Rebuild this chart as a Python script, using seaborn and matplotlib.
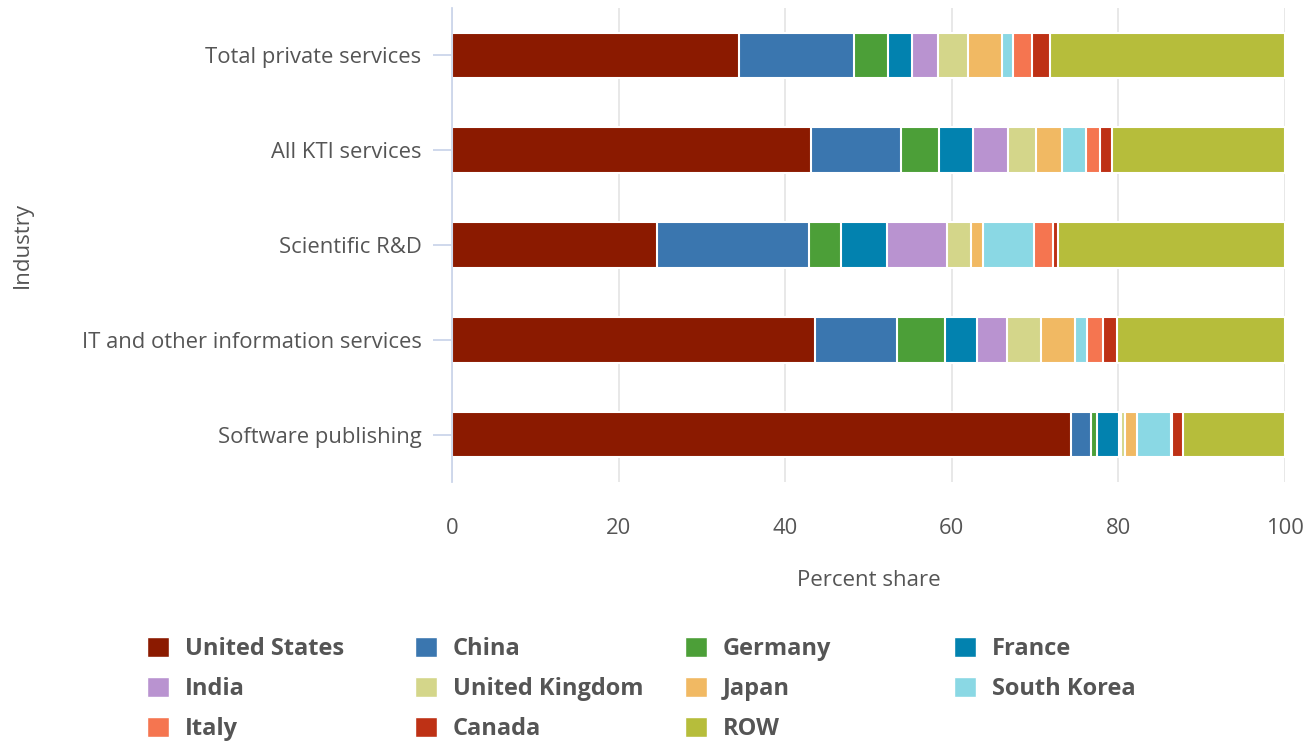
import pandas as pd
import seaborn as sns
import matplotlib.pyplot as plt
from matplotlib.patches import Patch

# industries, top to bottom
industries = ["Total private services", "All KTI services", "Scientific R&D",
              "IT and other information services", "Software publishing"]

countries = ["United States", "China", "Germany", "France", "India",
             "United Kingdom", "Japan", "South Korea", "Italy", "Canada", "ROW"]

# percent share per country, one value per industry
united_states = [34.5, 43.1, 24.6, 43.6, 74.3]
china = [13.7, 10.8, 18.3, 9.8, 2.4]
germany = [4.1, 4.6, 3.8, 5.8, 0.7]
france = [2.9, 4.1, 5.5, 3.8, 2.7]
india = [3.1, 4.1, 7.2, 3.6, 0.2]
united_kingdom = [3.6, 3.4, 2.9, 4.1, 0.5]
japan = [4.1, 3.1, 1.4, 4.1, 1.4]
south_korea = [1.4, 2.9, 6.2, 1.4, 4.1]
italy = [2.2, 1.7, 2.2, 1.9, 0.1]
canada = [2.2, 1.4, 0.7, 1.7, 1.4]
row = [28.2, 20.8, 27.2, 20.2, 12.2]

colors = ["#8b1a00", "#3a76af", "#4c9f38", "#0282af", "#b993d0",
          "#d4d68a", "#f1b963", "#8ad8e4", "#f57550", "#be3115", "#b6bd3b"]

df = pd.DataFrame({"Industry": industries,
                   "United States": united_states, "China": china,
                   "Germany": germany, "France": france, "India": india,
                   "United Kingdom": united_kingdom, "Japan": japan,
                   "South Korea": south_korea, "Italy": italy,
                   "Canada": canada, "ROW": row})

# cumulative sums for stacking
cum = df[countries].cumsum(axis=1)
cum["Industry"] = df["Industry"]

sns.set_theme(style="white")
plt.rcParams['font.family'] = ['Open Sans', 'DejaVu Sans']

text_col = "#555555"
fig = plt.figure(figsize=(13.16, 7.44), dpi=100)
ax = fig.add_axes([452 / 1316, 1 - 482 / 744, 833 / 1316, 474 / 744])

# draw largest cumulative first so each segment overlays the previous
for country, col in reversed(list(zip(countries, colors))):
    sns.barplot(data=cum, x=country, y="Industry", order=industries,
                color=col, width=0.48, orient="h", ax=ax,
                edgecolor="white", linewidth=1.5, saturation=1)

ax.set_xlim(0, 100)
ax.set_ylim(4.5, -0.5)
ax.set_xticks([0, 20, 40, 60, 80, 100])
ax.xaxis.grid(True, color="#e6e6e6", linewidth=1.3)
ax.set_axisbelow(True)
for s in ["top", "right", "bottom"]:
    ax.spines[s].set_visible(False)
ax.spines["left"].set_color("#ccd6eb")
ax.spines["left"].set_linewidth(1.3)

ax.tick_params(axis="y", length=14, width=1.3, color="#ccd6eb",
               labelsize=15.8, labelcolor=text_col, pad=8, left=True)
ax.tick_params(axis="x", length=0, labelsize=15.8, labelcolor=text_col, pad=26)

ax.set_xlabel("Percent share", fontsize=16, color=text_col, labelpad=22)
ax.set_ylabel("Industry", fontsize=16, color=text_col)
ax.yaxis.set_label_coords((33 - 452) / 833, 1 - (245 - 8) / 474)

# legend laid out row by row, four columns at fixed positions
col_x = [147, 415, 685, 954]
for c in range(4):
    idx = list(range(c, len(countries), 4))
    handles = [Patch(facecolor=colors[i], edgecolor="white") for i in idx]
    labels = [countries[i] for i in idx]
    leg = fig.legend(handles, labels, loc="upper left",
                     bbox_to_anchor=(col_x[c] / 1316, 1 - 637 / 744),
                     frameon=False, fontsize=17, handlelength=0.95,
                     handleheight=0.95, handletextpad=0.65, labelspacing=0.66,
                     borderaxespad=0, borderpad=0)
    for t in leg.get_texts():
        t.set_fontweight("bold")
        t.set_color(text_col)

fig.savefig("out.png", dpi=100)
